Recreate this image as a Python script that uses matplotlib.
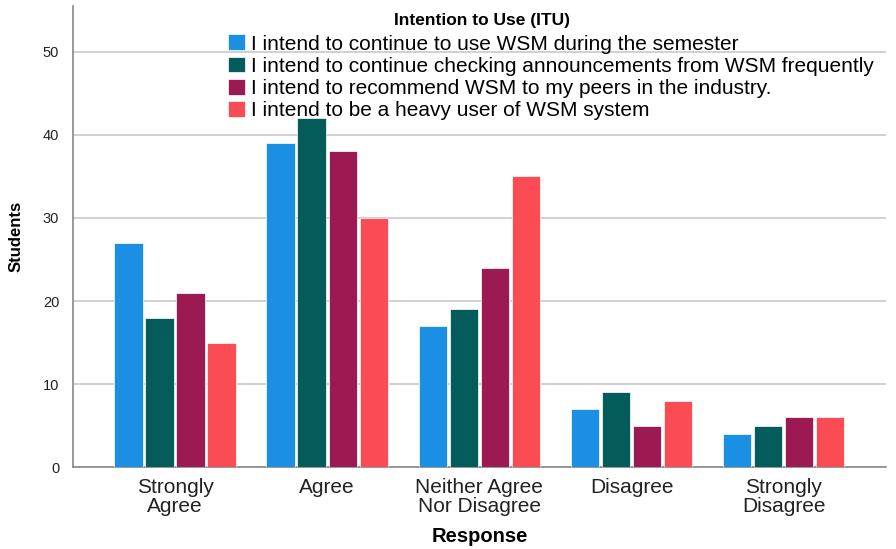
import matplotlib.pyplot as plt
import numpy as np

plt.rcParams['font.family'] = ['Liberation Sans', 'DejaVu Sans']

categories = ['Strongly\nAgree', 'Agree', 'Neither Agree\nNor Disagree', 'Disagree', 'Strongly\nDisagree']
series_names = ['I intend to continue to use WSM during the semester',
                'I intend to continue checking announcements from WSM frequently',
                'I intend to recommend WSM to my peers in the industry.',
                'I intend to be a heavy user of WSM system']
use_semester = [27, 39, 17, 7, 4]
check_announcements = [18, 42, 19, 9, 5]
recommend_peers = [21, 38, 24, 5, 6]
heavy_user = [15, 30, 35, 8, 6]
colors = ['#1a8fe3', '#045c5a', '#9c1a52', '#fb4c56']

series = [use_semester, check_announcements, recommend_peers, heavy_user]

fig = plt.figure(figsize=(8.96, 5.49), dpi=100)
ax = fig.add_axes([0.0815, 0.149, 0.907, 0.84])

x = np.arange(len(categories))
pitch = 0.204
width = 0.186
for i, vals in enumerate(series):
    ax.bar(x + (i - 1.5) * pitch, vals, width, color=colors[i],
           edgecolor='#ffffff', linewidth=0.5, label=series_names[i], zorder=3)

ax.set_xlim(-0.67, 4.67)
ax.set_ylim(0, 55.5)
ax.set_yticks(range(0, 51, 10))
ax.set_xticks(x)
ax.set_xticklabels(categories, fontsize=15, color='#222222', linespacing=0.95)
ax.tick_params(axis='y', length=0, pad=10, labelsize=10.5, colors='#222222')
ax.tick_params(axis='x', length=0, pad=8)
ax.grid(axis='y', color='#c8c8c8', linewidth=1.2, zorder=0)

for s in ['top', 'right']:
    ax.spines[s].set_visible(False)
for s in ['left', 'bottom']:
    ax.spines[s].set_color('#888888')
    ax.spines[s].set_linewidth(1.2)

ax.set_xlabel('Response', fontsize=14.5, fontweight='bold', labelpad=8)
ax.set_ylabel('Students', fontsize=12, fontweight='bold', labelpad=14)

leg = ax.legend(loc='upper left', bbox_to_anchor=(0.188, 0.943), frameon=False,
                fontsize=15, handlelength=0.8, handleheight=0.8, handletextpad=0.3,
                labelspacing=0.14, borderpad=0.1, borderaxespad=0.0)
fig.text(482 / 896, 1 - 20 / 549, 'Intention to Use (ITU)', fontsize=12.5,
         fontweight='bold', ha='center', va='center')

fig.savefig('out.png', dpi=100)
